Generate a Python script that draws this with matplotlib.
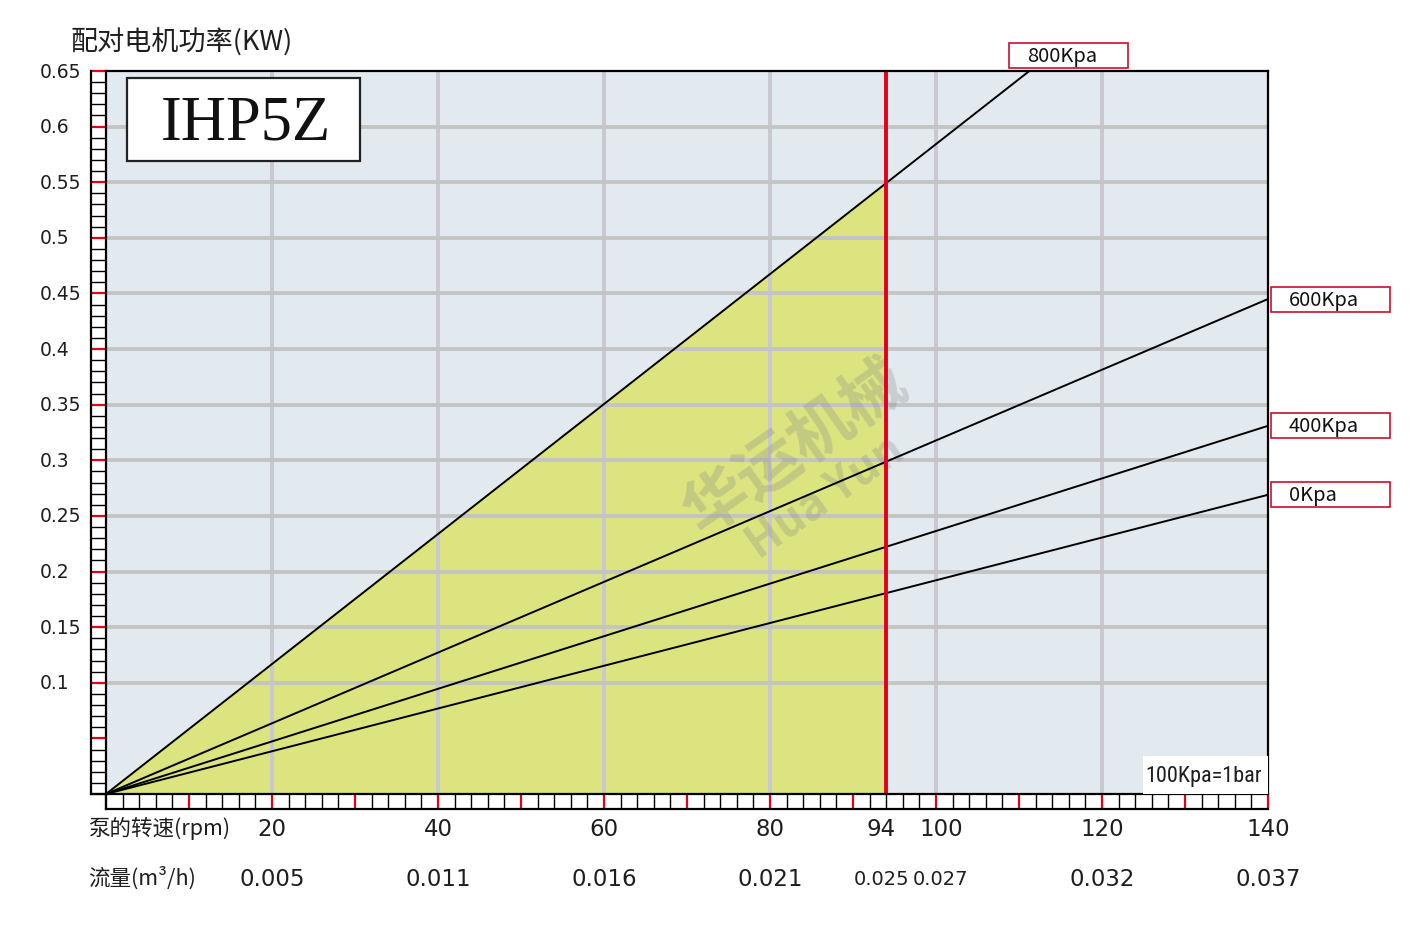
import matplotlib.pyplot as plt
import matplotlib.patches as mpatches
import matplotlib.transforms as mtransforms
from matplotlib import font_manager
import numpy as np

plt.rcParams['font.family'] = ['Noto Sans CJK SC', 'DejaVu Sans']

# data
pressures = ["0Kpa", "400Kpa", "600Kpa", "800Kpa"]
speed_ends = [0, 140]
power_at_140 = [0.269, 0.331, 0.445, 0.818]
rated_speed = 94

rpm_ticks = [20, 40, 60, 80, 94, 100, 120, 140]
rpm_labels = ["20", "40", "60", "80", "94", "100", "120", "140"]
flow_labels = ["0.005", "0.011", "0.016", "0.021", "0.025", "0.027", "0.032", "0.037"]
power_ticks = [0.1, 0.15, 0.2, 0.25, 0.3, 0.35, 0.4, 0.45, 0.5, 0.55, 0.6, 0.65]
power_labels = ["0.1", "0.15", "0.2", "0.25", "0.3", "0.35", "0.4", "0.45", "0.5", "0.55", "0.6", "0.65"]

W, H = 1420, 929
fig = plt.figure(figsize=(W / 100, H / 100), dpi=100)
x0, x1, y0, y1 = 106, 1268, 72, 795
ax = fig.add_axes([x0 / W, 1 - y1 / H, (x1 - x0) / W, (y1 - y0) / H])
ax.set_xlim(0, 140)
ax.set_ylim(0, 0.65)
ax.set_facecolor('#e3eaef')

red = '#e3001b'
box_red = '#c8102e'
txt = '#1e1e1e'
num_font = 'DejaVu Sans'

# grid
for gx in [20, 40, 60, 80, 100, 120]:
    ax.axvline(gx, color='#c9c8d2', lw=2.8, zorder=2)
for gy in np.arange(0.1, 0.61, 0.05):
    ax.axhline(gy, color='#c4c4c4', lw=2.8, zorder=2)

# shaded working region under the 800Kpa line up to rated speed
slope800 = power_at_140[3] / speed_ends[1]
ax.fill([0, rated_speed, rated_speed], [0, slope800 * rated_speed, 0],
        color='#dbe47e', zorder=1)

for p in power_at_140:
    ax.plot(speed_ends, [0, p], color='black', lw=1.4, zorder=4)

ax.axvline(rated_speed, color=red, lw=2.8, zorder=5)

# ruler ticks
ax.set_xticks(range(0, 141, 10))
ax.set_xticks(range(0, 141, 2), minor=True)
ax.set_yticks(np.arange(0, 0.651, 0.05))
ax.set_yticks(np.arange(0, 0.651, 0.01), minor=True)
ax.tick_params(which='major', direction='out', length=10.8, width=1.6, color=red,
               labelbottom=False, labelleft=False)
ax.tick_params(which='minor', direction='out', length=10.8, width=1.0, color='black')
for s in ax.spines.values():
    s.set_linewidth(1.6)
    s.set_zorder(6)

# ruler outer edges
rw = 15 / (x1 - x0)
rh = 15 / (y1 - y0)
ax.plot([-rw, -rw], [0, 1], transform=ax.transAxes, color='black', lw=1.6, clip_on=False)
ax.plot([-rw, 0], [0, 0], transform=ax.transAxes, color='black', lw=1.6, clip_on=False)
ax.plot([0, 1], [-rh, -rh], transform=ax.transAxes, color='black', lw=1.6, clip_on=False)
ax.plot([0, 0], [-rh, 0], transform=ax.transAxes, color='black', lw=1.6, clip_on=False)

# axis labels (labels of close neighbours get nudged apart a little)
xt = ax.get_xaxis_transform()
yt = ax.get_yaxis_transform()
px = 140 / (x1 - x0)
for i, (v, l, f) in enumerate(zip(rpm_ticks, rpm_labels, flow_labels)):
    prev_gap = v - rpm_ticks[i - 1] if i > 0 else 99
    next_gap = rpm_ticks[i + 1] - v if i < len(rpm_ticks) - 1 else 99
    tight = min(prev_gap, next_gap) < 10
    shift = 0
    if next_gap < 10:
        shift = -5 * px
    elif prev_gap < 10:
        shift = 5 * px
    ax.text(v + shift, -0.048, l, transform=xt, ha='center', va='center', fontsize=16.5,
            family=num_font, color=txt)
    ax.text(v + shift, -0.117, f, transform=xt, ha='center', va='center',
            fontsize=14 if tight else 16.5, family=num_font, color=txt)
for v, l in zip(power_ticks, power_labels):
    ax.text(-(106 - 40) / (x1 - x0), v, l, transform=yt, ha='left', va='center',
            fontsize=13.5, family=num_font, color=txt)

fig.text(70 / W, 1 - 43 / H, "配对电机功率(KW)", ha='left', va='center', fontsize=19.5, color=txt)
fig.text(88 / W, 1 - 828 / H, "泵的转速(rpm)", ha='left', va='center', fontsize=15.5, color=txt)
fig.text(88 / W, 1 - 878 / H, "流量(m³/h)", ha='left', va='center', fontsize=15.5, color=txt)

# model name box
ax.add_patch(mpatches.Rectangle(((127 - x0) / (x1 - x0), (y1 - 162) / (y1 - y0)),
                                233 / (x1 - x0), 83 / (y1 - y0), transform=ax.transAxes,
                                facecolor='white', edgecolor='#222222', lw=1.6, zorder=7))
ax.text((246 - x0) / (x1 - x0), (y1 - 125) / (y1 - y0), "IHP5Z", transform=ax.transAxes,
        ha='center', va='center', fontsize=45, family='Liberation Serif', color='#111111', zorder=8)

# unit note
names = {f.name for f in font_manager.fontManager.ttflist}
note_font, note_size = 'DejaVu Sans', 13
for cand, size in [('Liberation Sans Narrow', 17), ('Roboto Condensed', 16),
                   ('DejaVu Sans Condensed', 14.5), ('Roboto', 14)]:
    if cand in names:
        note_font, note_size = cand, size
        break
ax.add_patch(mpatches.Rectangle(((1143 - x0) / (x1 - x0), 0), 125 / (x1 - x0), 38 / (y1 - y0),
                                transform=ax.transAxes, facecolor='white', edgecolor='none', zorder=7))
ax.text(0.995, 18 / (y1 - y0), "100Kpa=1bar", transform=ax.transAxes, ha='right', va='center',
        fontsize=note_size, family=note_font, color=txt, zorder=8)

# pressure label boxes
bw = 119 / (x1 - x0)
bh = 25 / (y1 - y0)
tx = 18 / (x1 - x0)
blend = mtransforms.blended_transform_factory(ax.transAxes, ax.transAxes)
for name, p in zip(pressures, power_at_140):
    if p <= 0.65:
        bx = 1.0025
        by = p / 0.65 - bh / 2
    else:
        xc = 0.65 / (p / 140) / 140
        bx = xc - 20 / (x1 - x0)
        by = (y1 - 69) / (y1 - y0)
    ax.add_patch(mpatches.Rectangle((bx, by), bw, bh, transform=blend, facecolor='white',
                                    edgecolor=box_red, lw=1.2, clip_on=False, zorder=7))
    ax.text(bx + tx, by + bh / 2, name, transform=blend, ha='left', va='center',
            fontsize=14.5, color='#111111', zorder=8)

# faint watermark
ax.text((795 - x0) / (x1 - x0), (y1 - 448) / (y1 - y0), "华运机械", transform=ax.transAxes,
        ha='center', va='center', rotation=35, fontsize=46, fontweight='bold',
        color='#8a8a8a', alpha=0.3, zorder=3)
ax.text((825 - x0) / (x1 - x0), (y1 - 497) / (y1 - y0), "Hua Yun", transform=ax.transAxes,
        ha='center', va='center', rotation=35, fontsize=32, fontweight='bold',
        color='#8a8a8a', alpha=0.3, zorder=3)

fig.savefig("out.png", dpi=100)
